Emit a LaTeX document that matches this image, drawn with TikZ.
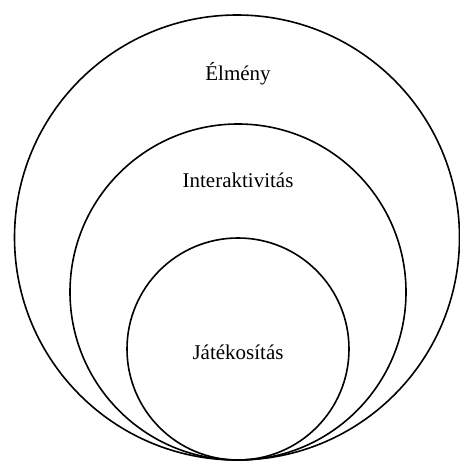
\documentclass[tikz,border=0pt]{standalone}
\usepackage{fontspec}
\setmainfont{Liberation Serif}
\usetikzlibrary{positioning}

\begin{document}
\begin{tikzpicture}[x=1pt,y=1pt,every node/.style={font=\fontsize{21}{25}\selectfont}]
\tikzstyle{ring}=[draw,circle,line width=1.6pt,inner sep=0pt,outer sep=0pt]
\tikzstyle{lbl}=[inner sep=0pt,anchor=center]
\useasboundingbox (0,0) rectangle (459,461);
% nested circles, all touching at the bottom
\node[ring,minimum size=445pt](elmeny) at (237,223.5){};
\node[ring,minimum size=336pt](inter) at (238,169){};
\node[ring,minimum size=222pt](jatek) at (238,112){};
% labels
\node[lbl](t1) at (238,387){Élmény};
\node[lbl](t2) at (238,281){Interaktivitás};
\node[lbl](t3) at (238,109){Játékosítás};
\end{tikzpicture}
\end{document}
